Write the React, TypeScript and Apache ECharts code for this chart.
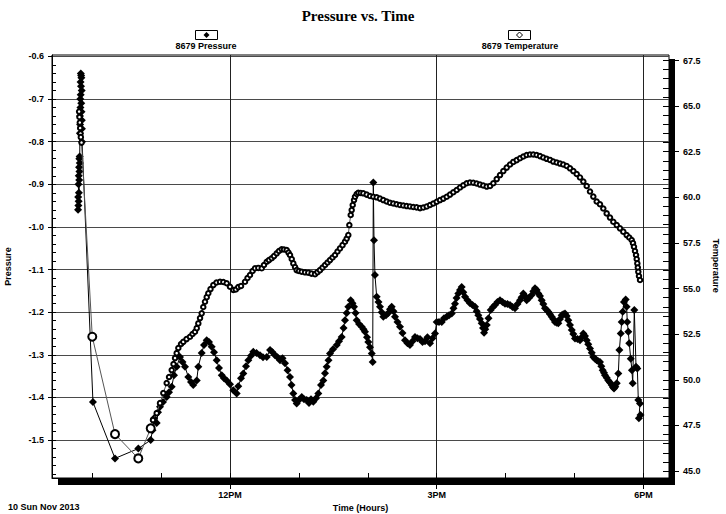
import React, { useEffect, useRef } from 'react';
import * as echarts from 'echarts';

// ---- data (time in decimal hours of 10 Nov 2013) ----
const pressureTime = [
  9.795, 9.797, 9.799, 9.801, 9.803, 9.805, 9.807, 9.809, 9.811, 9.813, 9.815, 9.817, 9.819, 9.821, 9.823,
  9.825, 9.827, 9.829, 9.831, 9.833, 9.835, 9.837, 9.839, 9.841, 9.843, 9.845, 9.847, 9.849, 9.851, 9.853,
  10.011, 10.331, 10.669, 10.849, 10.875, 10.897, 10.936, 10.955, 10.984, 11.028, 11.081, 11.115, 11.154,
  11.187, 11.226, 11.274, 11.311, 11.347, 11.395, 11.434, 11.467, 11.517, 11.540, 11.589, 11.623, 11.662,
  11.695, 11.734, 11.768, 11.807, 11.840, 11.880, 11.913, 11.952, 12.000, 12.048, 12.097, 12.120, 12.160,
  12.193, 12.232, 12.266, 12.305, 12.338, 12.385, 12.435, 12.479, 12.533, 12.581, 12.617, 12.653, 12.689,
  12.726, 12.762, 12.798, 12.835, 12.871, 12.893, 12.919, 12.944, 12.968, 13.001, 13.041, 13.074, 13.113,
  13.147, 13.176, 13.209, 13.248, 13.282, 13.321, 13.354, 13.379, 13.403, 13.430, 13.451, 13.495, 13.549,
  13.582, 13.621, 13.648, 13.669, 13.694, 13.717, 13.752, 13.778, 13.800, 13.822, 13.839, 13.873, 13.911,
  13.938, 13.959, 13.988, 14.007, 14.032, 14.057, 14.071, 14.080, 14.090, 14.104, 14.129, 14.155, 14.177,
  14.202, 14.225, 14.264, 14.298, 14.322, 14.347, 14.373, 14.395, 14.431, 14.467, 14.504, 14.540, 14.576,
  14.612, 14.649, 14.685, 14.721, 14.758, 14.794, 14.830, 14.866, 14.903, 14.939, 14.975, 15.000, 15.033,
  15.073, 15.106, 15.145, 15.179, 15.218, 15.244, 15.266, 15.288, 15.314, 15.338, 15.363, 15.386, 15.411,
  15.447, 15.483, 15.520, 15.556, 15.580, 15.604, 15.628, 15.653, 15.672, 15.687, 15.705, 15.726, 15.752,
  15.784, 15.817, 15.846, 15.882, 15.919, 15.955, 15.991, 16.027, 16.064, 16.100, 16.136, 16.173, 16.209,
  16.233, 16.257, 16.282, 16.306, 16.339, 16.379, 16.402, 16.427, 16.451, 16.475, 16.499, 16.524, 16.547,
  16.572, 16.597, 16.620, 16.644, 16.669, 16.692, 16.717, 16.742, 16.765, 16.790, 16.814, 16.837, 16.862,
  16.887, 16.910, 16.935, 16.960, 16.983, 17.007, 17.044, 17.080, 17.105, 17.128, 17.152, 17.177, 17.200,
  17.225, 17.250, 17.273, 17.298, 17.322, 17.346, 17.370, 17.389, 17.409, 17.428, 17.443, 17.467, 17.491,
  17.515, 17.540, 17.559, 17.573, 17.592, 17.613, 17.636, 17.651, 17.671, 17.685, 17.700, 17.718, 17.743,
  17.757, 17.766, 17.781, 17.795, 17.816, 17.834, 17.845, 17.868, 17.893, 17.912, 17.926, 17.951, 17.934,
  17.958,
];
const pressureValue = [
  -0.96, -0.93, -0.95, -0.9, -0.94, -0.88, -0.92, -0.86, -0.89, -0.84, -0.87, -0.835, -0.85, -0.78, -0.74,
  -0.76, -0.7, -0.72, -0.66, -0.69, -0.64, -0.67, -0.645, -0.71, -0.65, -0.73, -0.68, -0.75, -0.77, -0.8,
  -1.411, -1.543, -1.52, -1.5, -1.477, -1.449, -1.46, -1.435, -1.422, -1.411, -1.399, -1.388, -1.375,
  -1.348, -1.328, -1.305, -1.317, -1.328, -1.352, -1.364, -1.371, -1.36, -1.328, -1.296, -1.277, -1.266,
  -1.27, -1.281, -1.294, -1.313, -1.331, -1.348, -1.355, -1.36, -1.369, -1.383, -1.391, -1.374, -1.355,
  -1.344, -1.327, -1.313, -1.302, -1.293, -1.296, -1.301, -1.306, -1.305, -1.289, -1.294, -1.301, -1.306,
  -1.313, -1.308, -1.32, -1.336, -1.352, -1.371, -1.391, -1.406, -1.414, -1.406, -1.399, -1.404, -1.406,
  -1.413, -1.404, -1.41, -1.402, -1.391, -1.371, -1.36, -1.343, -1.328, -1.313, -1.297, -1.287, -1.277,
  -1.268, -1.258, -1.237, -1.219, -1.202, -1.187, -1.172, -1.179, -1.187, -1.202, -1.219, -1.228, -1.234,
  -1.24, -1.246, -1.259, -1.27, -1.282, -1.297, -1.317, -0.896, -1.031, -1.113, -1.164, -1.176, -1.187,
  -1.2, -1.211, -1.207, -1.202, -1.193, -1.187, -1.198, -1.211, -1.223, -1.234, -1.249, -1.266, -1.273,
  -1.277, -1.268, -1.258, -1.261, -1.263, -1.27, -1.268, -1.259, -1.273, -1.261, -1.25, -1.223, -1.223,
  -1.223, -1.214, -1.211, -1.207, -1.203, -1.191, -1.18, -1.167, -1.156, -1.148, -1.141, -1.153, -1.164,
  -1.172, -1.179, -1.183, -1.187, -1.198, -1.207, -1.216, -1.226, -1.237, -1.248, -1.24, -1.23, -1.214,
  -1.195, -1.188, -1.183, -1.176, -1.172, -1.176, -1.18, -1.181, -1.183, -1.188, -1.191, -1.181, -1.172,
  -1.165, -1.156, -1.162, -1.172, -1.167, -1.16, -1.151, -1.144, -1.148, -1.156, -1.162, -1.172, -1.181,
  -1.191, -1.195, -1.199, -1.205, -1.211, -1.216, -1.223, -1.225, -1.226, -1.216, -1.207, -1.205, -1.203,
  -1.209, -1.219, -1.23, -1.242, -1.251, -1.262, -1.263, -1.266, -1.259, -1.25, -1.256, -1.266, -1.275,
  -1.285, -1.295, -1.305, -1.309, -1.313, -1.315, -1.317, -1.327, -1.336, -1.342, -1.348, -1.354, -1.36,
  -1.365, -1.371, -1.376, -1.379, -1.375, -1.367, -1.344, -1.289, -1.25, -1.223, -1.199, -1.176, -1.17,
  -1.187, -1.223, -1.246, -1.273, -1.309, -1.336, -1.367, -1.195, -1.328, -1.332, -1.406, -1.414, -1.449,
  -1.441,
];

const tempTime = [
  9.81, 9.815, 9.82, 9.825, 9.83, 9.835, 9.845,
  10.001, 10.331, 10.669, 10.849, 10.882, 10.936, 10.984, 11.032, 11.081, 11.115, 11.154, 11.18, 11.202,
  11.226, 11.25, 11.289, 11.322, 11.369, 11.419, 11.456, 11.492, 11.517, 11.54, 11.565, 11.589, 11.612,
  11.637, 11.662, 11.685, 11.717, 11.758, 11.804, 11.855, 11.903, 11.952, 12.0, 12.048, 12.084, 12.12,
  12.16, 12.218, 12.254, 12.29, 12.327, 12.363, 12.411, 12.46, 12.493, 12.533, 12.566, 12.605, 12.639,
  12.678, 12.711, 12.75, 12.784, 12.823, 12.849, 12.871, 12.896, 12.919, 12.944, 12.968, 13.001, 13.041,
  13.089, 13.136, 13.183, 13.234, 13.27, 13.306, 13.343, 13.379, 13.415, 13.451, 13.488, 13.524, 13.56,
  13.596, 13.633, 13.669, 13.694, 13.717, 13.732, 13.752, 13.766, 13.781, 13.8, 13.814, 13.839, 13.862,
  13.898, 13.935, 13.984, 14.032, 14.08, 14.129, 14.177, 14.225, 14.274, 14.322, 14.37, 14.419, 14.467,
  14.515, 14.564, 14.612, 14.66, 14.709, 14.758, 14.806, 14.855, 14.903, 14.951, 15.0, 15.048, 15.096,
  15.145, 15.193, 15.241, 15.29, 15.338, 15.386, 15.435, 15.483, 15.531, 15.58, 15.628, 15.676, 15.726,
  15.774, 15.822, 15.871, 15.919, 15.967, 16.016, 16.064, 16.112, 16.161, 16.209, 16.257, 16.306, 16.354,
  16.402, 16.451, 16.499, 16.547, 16.596, 16.644, 16.692, 16.742, 16.79, 16.837, 16.887, 16.935, 16.983,
  17.032, 17.08, 17.128, 17.177, 17.225, 17.273, 17.322, 17.37, 17.418, 17.467, 17.515, 17.563, 17.613,
  17.66, 17.708, 17.757, 17.795, 17.83, 17.849, 17.863, 17.878, 17.893, 17.903, 17.912, 17.919, 17.926,
  17.936, 17.951,
];
const tempValue = [
  64.7, 64.4, 64.1, 63.8, 63.5, 63.3, 63.0,
  52.36, 47.02, 45.69, 47.34, 47.79, 48.17, 48.72, 49.27, 49.82, 50.15, 50.53, 50.86, 51.19,
  51.46, 51.74, 51.96, 52.08, 52.23, 52.36, 52.51, 52.63, 52.83, 53.09, 53.38, 53.64, 53.99,
  54.28, 54.53, 54.74, 54.97, 55.19, 55.33, 55.37, 55.36, 55.29, 55.1, 54.92, 54.95, 55.08,
  55.14, 55.37, 55.58, 55.74, 55.96, 56.11, 56.13, 56.11, 56.29, 56.47, 56.56, 56.66, 56.78,
  56.93, 57.06, 57.15, 57.14, 57.11, 56.97, 56.84, 56.62, 56.38, 56.18, 56.01, 55.96, 55.92,
  55.89, 55.87, 55.82, 55.79, 55.9, 56.01, 56.15, 56.29, 56.43, 56.56, 56.7, 56.84, 57.03,
  57.2, 57.38, 57.57, 57.74, 57.93, 58.48, 59.03, 59.3, 59.58, 59.85, 60.03, 60.18, 60.25,
  60.24, 60.22, 60.15, 60.07, 60.03, 60.0, 59.93, 59.85, 59.77, 59.7, 59.66, 59.62, 59.58,
  59.55, 59.52, 59.5, 59.47, 59.45, 59.41, 59.44, 59.5, 59.58, 59.66, 59.76, 59.85, 59.93,
  60.03, 60.15, 60.28, 60.4, 60.54, 60.66, 60.77, 60.81, 60.8, 60.76, 60.7, 60.65, 60.59,
  60.62, 60.77, 61.0, 61.22, 61.44, 61.63, 61.8, 61.94, 62.04, 62.14, 62.24, 62.32, 62.35,
  62.35, 62.32, 62.26, 62.18, 62.11, 62.05, 61.96, 61.91, 61.85, 61.8, 61.72, 61.59, 61.44,
  61.28, 61.09, 60.87, 60.62, 60.32, 60.04, 59.77, 59.62, 59.39, 59.12, 58.89, 58.66, 58.48,
  58.3, 58.12, 57.93, 57.8, 57.66, 57.49, 57.29, 57.06, 56.84, 56.62, 56.38, 56.15, 55.92,
  55.69, 55.47,
];
// samples drawn with a larger open marker (sparse readings)
const tempSparseIndex = [7, 8, 9, 10];

// ---- axis ticks / labels ----
const xLabelHours = [12, 15, 18];
const xLabelText = ['12PM', '3PM', '6PM'];
const hourTicks = [10, 11, 12, 13, 14, 15, 16, 17, 18];
const pressureTicks = [-1.5, -1.4, -1.3, -1.2, -1.1, -1.0, -0.9, -0.8, -0.7, -0.6];
const pressureMinorTicks: number[] = [];
for (let k = -79; k <= -31; k++) pressureMinorTicks.push(Math.round(k * 2) / 100);

const X_MIN = 9.4165;
const X_MAX = 18.3716;
const P_MIN = -1.589;
const P_MAX = -0.5967;
const T_MIN = 45;
const T_MAX = 67.5;

const SANS = '"Liberation Sans", Arial, sans-serif';
const SERIF = '"Liberation Serif", "Times New Roman", serif';
const lbl = { fontFamily: SANS, fontSize: 9, fontWeight: 'bold' as const, color: '#000' };

export default function App() {
  const ref = useRef<HTMLDivElement>(null);
  useEffect(() => {
    document.body.style.margin = '0';
    if (!ref.current) return;
    const chart = echarts.init(ref.current, null, { renderer: 'svg' });
    const tickLine = { color: '#000', width: 1 };
    const option: any = {
      animation: false,
      backgroundColor: '#fff',
      grid: [
        { left: 52, top: 55, width: 617, height: 423, show: true, borderColor: '#000', borderWidth: 1, backgroundColor: 'transparent', containLabel: false, outerBoundsMode: 'none' },
        { left: 52, top: 60.5, width: 617, height: 410.5, show: false, containLabel: false, outerBoundsMode: 'none' },
      ],
      xAxis: [
        {
          type: 'value', gridIndex: 0, min: X_MIN, max: X_MAX, position: 'bottom',
          axisLine: { show: true, onZero: false, lineStyle: tickLine },
          axisTick: { show: true, customValues: xLabelHours, length: 11, lineStyle: tickLine },
          axisLabel: {
            ...lbl, customValues: xLabelHours, margin: 12,
            formatter: (v: number) => xLabelText[xLabelHours.indexOf(Math.round(v))] || '',
          },
          splitLine: { show: true, lineStyle: { color: '#222', width: 1 } },
          name: 'Time (Hours)', nameLocation: 'middle', nameGap: 24, nameTextStyle: lbl,
        },
        {
          type: 'value', gridIndex: 0, min: X_MIN, max: X_MAX, position: 'bottom',
          axisLine: { show: false, onZero: false },
          axisTick: { show: true, customValues: hourTicks, inside: true, length: 5, lineStyle: tickLine },
          axisLabel: { show: false }, splitLine: { show: false },
        },
        { type: 'value', gridIndex: 1, min: X_MIN, max: X_MAX, show: false, splitLine: { show: false } },
      ],
      yAxis: [
        {
          type: 'value', gridIndex: 0, position: 'left', min: P_MIN, max: P_MAX,
          axisLine: { show: true, onZero: false, lineStyle: tickLine },
          axisTick: { show: true, customValues: pressureTicks, length: 4, lineStyle: tickLine },
          axisLabel: { ...lbl, customValues: pressureTicks, margin: 8, formatter: (v: number) => v.toFixed(1) },
          splitLine: { show: true, lineStyle: { color: '#4a4a4a', width: 1 } },
          name: 'Pressure', nameLocation: 'middle', nameRotate: 90, nameGap: 40, nameTextStyle: lbl,
        },
        {
          type: 'value', gridIndex: 0, position: 'left', min: P_MIN, max: P_MAX,
          axisLine: { show: false, onZero: false },
          axisTick: { show: true, customValues: pressureMinorTicks, inside: true, length: 4, lineStyle: tickLine },
          axisLabel: { show: false }, splitLine: { show: false },
        },
        {
          type: 'value', gridIndex: 1, position: 'right', min: T_MIN, max: T_MAX, interval: 2.5,
          axisLine: { show: false, onZero: false },
          axisTick: { show: true, length: 10, lineStyle: tickLine },
          axisLabel: { ...lbl, margin: 14, formatter: (v: number) => v.toFixed(1) },
          splitLine: { show: false },
          name: 'Temperature', nameLocation: 'middle', nameRotate: -90, nameGap: 35, nameTextStyle: lbl,
        },
        {
          type: 'value', gridIndex: 1, position: 'right', min: T_MIN, max: T_MAX, interval: 0.5,
          axisLine: { show: false, onZero: false },
          axisTick: { show: true, inside: true, length: 6, lineStyle: tickLine },
          axisLabel: { show: false }, splitLine: { show: false },
        },
      ],
      series: [
        {
          name: '8679 Pressure', type: 'line', xAxisIndex: 0, yAxisIndex: 0,
          data: pressureTime.map((t, i) => [t, pressureValue[i]]),
          symbol: 'diamond', symbolSize: 8, showAllSymbol: true,
          lineStyle: { color: '#000', width: 1 }, itemStyle: { color: '#000' },
          clip: false, z: 3,
        },
        {
          name: '8679 Temperature', type: 'line', xAxisIndex: 2, yAxisIndex: 2,
          data: tempTime.map((t, i) => (tempSparseIndex.indexOf(i) >= 0
            ? { value: [t, tempValue[i]], symbolSize: 8 }
            : [t, tempValue[i]])),
          symbol: 'emptyCircle', symbolSize: 4.5, showAllSymbol: true,
          lineStyle: { color: '#555', width: 1 }, itemStyle: { color: '#000', borderColor: '#000', borderWidth: 0.8 },
          clip: false, z: 4,
        },
      ],
      graphic: [
        { type: 'text', x: 358, y: 16, style: { text: 'Pressure vs. Time', font: `bold 15px ${SERIF}`, fill: '#000', align: 'center', verticalAlign: 'middle' }, z: 10 },
        // legend
        { type: 'rect', shape: { x: 195.5, y: 30.5, width: 22, height: 9 }, style: { fill: '#fff', stroke: '#000', lineWidth: 1 }, z: 10 },
        { type: 'polygon', shape: { points: [[206.5, 32], [209.5, 35], [206.5, 38], [203.5, 35]] }, style: { fill: '#000' }, z: 11 },
        { type: 'text', x: 206, y: 46, style: { text: '8679 Pressure', font: `bold 9px ${SANS}`, fill: '#000', align: 'center', verticalAlign: 'middle' }, z: 10 },
        { type: 'rect', shape: { x: 508.5, y: 30.5, width: 22, height: 9 }, style: { fill: '#fff', stroke: '#000', lineWidth: 1 }, z: 10 },
        { type: 'polygon', shape: { points: [[519.5, 32], [522.5, 35], [519.5, 38], [516.5, 35]] }, style: { fill: '#fff', stroke: '#000', lineWidth: 1 }, z: 11 },
        { type: 'text', x: 520, y: 46, style: { text: '8679 Temperature', font: `bold 9px ${SANS}`, fill: '#000', align: 'center', verticalAlign: 'middle' }, z: 10 },
        // drop shadow of plot frame
        { type: 'rect', shape: { x: 669, y: 59, width: 6, height: 426 }, style: { fill: '#000' }, z: 20 },
        { type: 'rect', shape: { x: 58, y: 479, width: 617, height: 6 }, style: { fill: '#000' }, z: 20 },
        // date
        { type: 'text', x: 8, y: 507, style: { text: '10 Sun Nov 2013', font: `bold 9px ${SANS}`, fill: '#000', align: 'left', verticalAlign: 'middle' }, z: 10 },
      ],
    };
    chart.setOption(option);
    return () => chart.dispose();
  }, []);
  return <div ref={ref} style={{ width: 726, height: 514 }} />;
}
